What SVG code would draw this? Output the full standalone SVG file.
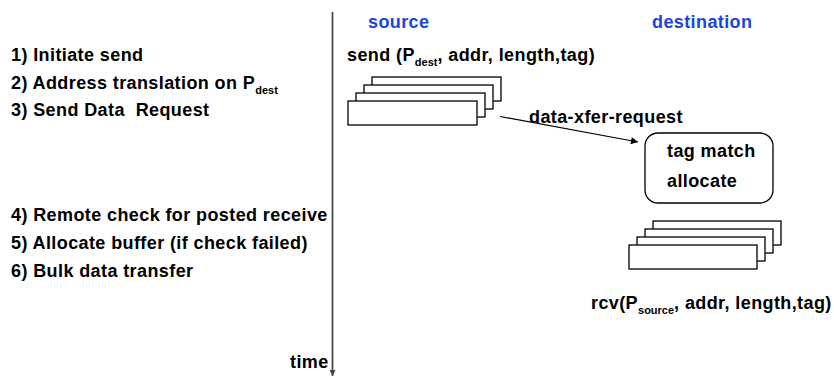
<svg xmlns="http://www.w3.org/2000/svg" width="834" height="378" viewBox="0 0 834 378">
  <style>
    text { font-family: "Liberation Sans", Arial, sans-serif; font-weight: bold; font-size: 18px; letter-spacing: 0.4px; fill: #000; }
    .hdr { fill: #1b45e0; }
    .sub { font-size: 11px; letter-spacing: 0; }
    .buf { fill: #fff; stroke: #000; stroke-width: 1.3; }
    .box { fill: #fff; stroke: #000; stroke-width: 1.3; }
    .conn { fill: none; stroke: #000; stroke-width: 1.2; }
    .axis { fill: none; stroke: #444; stroke-width: 1.7; }
  </style>
  <defs>
    <marker id="tip" viewBox="0 0 10 10" refX="10" refY="5" markerWidth="8" markerHeight="7" markerUnits="userSpaceOnUse" orient="auto">
      <path d="M0,0 L10,5 L0,10 Z" fill="#000"/>
    </marker>
    <marker id="axisTip" viewBox="0 0 10 10" refX="10" refY="5" markerWidth="7" markerHeight="6" markerUnits="userSpaceOnUse" orient="auto">
      <path d="M0,0 L10,5 L0,10 Z" fill="#444"/>
    </marker>
  </defs>

  <!-- protocol steps -->
  <g id="steps">
    <text x="11" y="61">1) Initiate send</text>
    <text x="11" y="89">2) Address translation on P<tspan class="sub" dy="5">dest</tspan></text>
    <text x="11" y="116">3) Send Data&#160; Request</text>
    <text x="11" y="221">4) Remote check for posted receive</text>
    <text x="11" y="249">5) Allocate buffer (if check failed)</text>
    <text x="11" y="277">6) Bulk data transfer</text>
  </g>

  <!-- time axis -->
  <g id="time-axis">
    <line class="axis" x1="332.5" y1="12" x2="332.5" y2="376" marker-end="url(#axisTip)"/>
    <text x="290" y="368">time</text>
  </g>

  <!-- column headings -->
  <g id="source-header"><text class="hdr" x="368" y="28">source</text></g>
  <g id="destination-header"><text class="hdr" x="652" y="28">destination</text></g>

  <!-- sender side -->
  <g id="send-call">
    <text x="347" y="61">send (P<tspan class="sub" dy="5">dest</tspan><tspan dy="-5">, addr, length,tag)</tspan></text>
  </g>
  <g id="source-buffers">
    <rect class="buf" x="372" y="77" width="129" height="24"/>
    <rect class="buf" x="364" y="85" width="129" height="24"/>
    <rect class="buf" x="356" y="93" width="129" height="24"/>
    <rect class="buf" x="348" y="101" width="129" height="24"/>
  </g>

  <!-- receiver side -->
  <g id="match-box">
    <rect class="box" x="645" y="133" width="128" height="70" rx="13" ry="13"/>
    <text x="667" y="157">tag match</text>
    <text x="667" y="187">allocate</text>
  </g>
  <g id="destination-buffers">
    <rect class="buf" x="653" y="221" width="128" height="24"/>
    <rect class="buf" x="645" y="229" width="128" height="24"/>
    <rect class="buf" x="637" y="237" width="128" height="24"/>
    <rect class="buf" x="629" y="245" width="128" height="24"/>
  </g>
  <g id="rcv-call">
    <text x="591" y="309">rcv(P<tspan class="sub" dy="5">source</tspan><tspan dy="-5">, addr, length,tag)</tspan></text>
  </g>

  <!-- request message -->
  <g id="connectors">
    <line class="conn" x1="500" y1="116.5" x2="638" y2="142" marker-end="url(#tip)"/>
    <text x="529" y="123">data-xfer-request</text>
  </g>
</svg>
